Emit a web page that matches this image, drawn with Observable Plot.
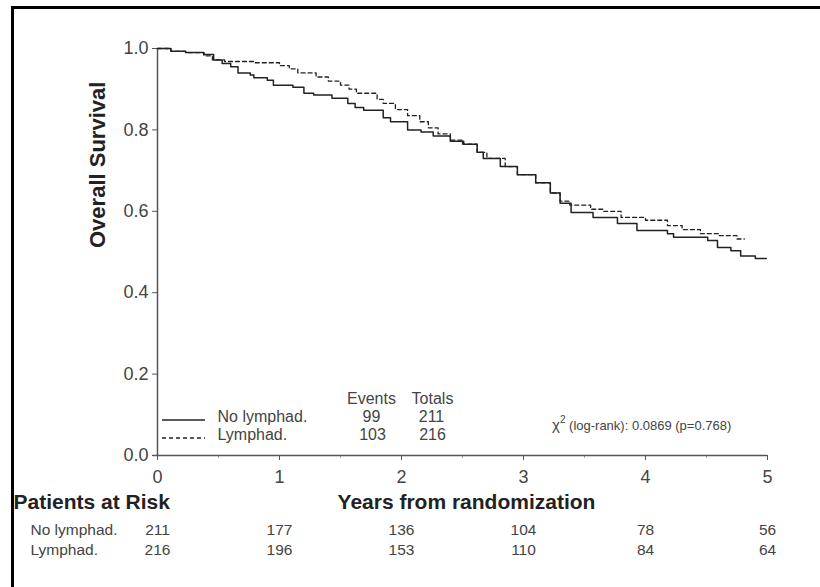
<!DOCTYPE html>
<html>
<head>
<meta charset="utf-8">
<script src="https://cdn.jsdelivr.net/npm/d3@7"></script>
<script src="https://cdn.jsdelivr.net/npm/@observablehq/plot@0.6"></script>
<style>
  html, body { margin: 0; padding: 0; background: #fff; }
  #wrap { position: relative; width: 820px; height: 587px; overflow: hidden; }
  #frame { position: absolute; left: 11px; top: 6px; right: -20px; bottom: -20px;
           border-top: 3px solid #000; border-left: 3px solid #000; pointer-events: none; }
</style>
</head>
<body>
<div id="wrap"><div id="frame"></div></div>
<script>
// ---- Data ----
const groups = ["No lymphad.", "Lymphad."];
const noTimes = [0, 0.11, 0.23, 0.38, 0.46, 0.53, 0.60, 0.66, 0.76, 0.79, 0.90, 0.95, 1.11, 1.20, 1.28, 1.43, 1.56, 1.62, 1.69, 1.85, 1.91, 2.05, 2.16, 2.26, 2.40, 2.51, 2.62, 2.67, 2.81, 2.95, 3.10, 3.22, 3.30, 3.39, 3.57, 3.77, 3.93, 4.18, 4.23, 4.51, 4.59, 4.70, 4.78, 4.90, 4.99];
const noSurv  = [1.0, 0.993, 0.99, 0.985, 0.972, 0.963, 0.955, 0.94, 0.935, 0.928, 0.922, 0.91, 0.905, 0.89, 0.886, 0.878, 0.865, 0.855, 0.848, 0.83, 0.82, 0.80, 0.795, 0.785, 0.772, 0.765, 0.745, 0.73, 0.71, 0.69, 0.67, 0.645, 0.62, 0.597, 0.585, 0.57, 0.553, 0.545, 0.536, 0.528, 0.511, 0.503, 0.49, 0.484, 0.484];
const lyTimes = [0, 0.11, 0.23, 0.38, 0.45, 0.55, 0.80, 1.00, 1.08, 1.15, 1.30, 1.40, 1.50, 1.57, 1.63, 1.80, 1.85, 1.95, 2.05, 2.15, 2.22, 2.30, 2.40, 2.50, 2.62, 2.70, 2.85, 2.95, 3.10, 3.22, 3.30, 3.38, 3.55, 3.65, 3.80, 4.00, 4.18, 4.30, 4.45, 4.60, 4.75, 4.81];
const lySurv  = [1.0, 0.993, 0.99, 0.982, 0.972, 0.968, 0.965, 0.958, 0.95, 0.94, 0.93, 0.92, 0.91, 0.90, 0.89, 0.875, 0.865, 0.85, 0.835, 0.82, 0.805, 0.79, 0.775, 0.765, 0.745, 0.73, 0.71, 0.69, 0.67, 0.645, 0.625, 0.615, 0.605, 0.60, 0.585, 0.578, 0.565, 0.555, 0.545, 0.54, 0.532, 0.532];

const events = [99, 103];
const totals = [211, 216];
const riskTimes = [0, 1, 2, 3, 4, 5];
const riskNo = [211, 177, 136, 104, 78, 56];
const riskLy = [216, 196, 153, 110, 84, 64];
const xTicks = [0, 1, 2, 3, 4, 5];
const xMinor = [0.5, 1.5, 2.5, 3.5, 4.5];
const yTicks = [0, 0.2, 0.4, 0.6, 0.8, 1.0];
const statText = "(log-rank): 0.0869 (p=0.768)";

const noData = noTimes.map((t, i) => ({t, s: noSurv[i]}));
const lyData = lyTimes.map((t, i) => ({t, s: lySurv[i]}));

const ink = "#222";
const txt = "#444";
const font = "Liberation Sans, Arial, Helvetica, sans-serif";

function label(str, opts) {
  return Plot.text([str], {text: d => d, fill: txt, ...opts});
}

const plot = Plot.plot({
  width: 820,
  height: 587,
  marginLeft: 157,
  marginRight: 53,
  marginTop: 48,
  marginBottom: 132,
  style: {fontFamily: font, background: "transparent", color: txt},
  x: {domain: [0, 5]},
  y: {domain: [0, 1]},
  marks: [
    Plot.axisY({ticks: yTicks, tickFormat: d3.format(".1f"), tickSize: 5, tickPadding: 4, fontSize: 18, label: null, stroke: "#555", fill: txt}),
    Plot.axisX({ticks: xTicks, tickFormat: d3.format("d"), tickSize: 5, tickPadding: 10, fontSize: 18, label: null, stroke: "#555", fill: txt}),
    Plot.axisX({ticks: xMinor, tickSize: 3, text: null, label: null, stroke: "#aaa"}),
    Plot.ruleX([0], {y1: 0, y2: 1, stroke: "#555", strokeWidth: 1.5}),
    Plot.ruleY([0], {x1: -0.035, x2: 5, stroke: "#555", strokeWidth: 1.5}),
    Plot.line(noData, {x: "t", y: "s", curve: "step-after", stroke: ink, strokeWidth: 1.5}),
    Plot.line(lyData, {x: "t", y: "s", curve: "step-after", stroke: ink, strokeWidth: 1.3, strokeDasharray: "4,3"}),
    // Legend labels & table
    label(groups[0], {frameAnchor: "bottom-left", dx: 60, dy: -34, textAnchor: "start", fontSize: 16}),
    label(groups[1], {frameAnchor: "bottom-left", dx: 60, dy: -16, textAnchor: "start", fontSize: 16}),
    label("Events", {frameAnchor: "bottom-left", dx: 214, dy: -52, textAnchor: "middle", fontSize: 16}),
    label("Totals", {frameAnchor: "bottom-left", dx: 275, dy: -52, textAnchor: "middle", fontSize: 16}),
    label(String(events[0]), {frameAnchor: "bottom-left", dx: 214, dy: -34, textAnchor: "middle", fontSize: 16}),
    label(String(events[1]), {frameAnchor: "bottom-left", dx: 215, dy: -16, textAnchor: "middle", fontSize: 16}),
    label(String(totals[0]), {frameAnchor: "bottom-left", dx: 274, dy: -34, textAnchor: "middle", fontSize: 16}),
    label(String(totals[1]), {frameAnchor: "bottom-left", dx: 275, dy: -16, textAnchor: "middle", fontSize: 16}),
    // Titles
    label("Overall Survival", {frameAnchor: "left", dx: -60, dy: -4, rotate: -90, fontSize: 22, fontWeight: "bold", fill: ink}),
    label("Years from randomization", {frameAnchor: "bottom", dx: 4, dy: 53, fontSize: 21, fontWeight: "bold", fill: ink}),
    label("Patients at Risk", {frameAnchor: "bottom-left", dx: -144, dy: 53, textAnchor: "start", fontSize: 21, fontWeight: "bold", fill: ink}),
    // Risk table
    label(groups[0], {frameAnchor: "bottom-left", dx: -127, dy: 79, textAnchor: "start", fontSize: 15.5}),
    label(groups[1], {frameAnchor: "bottom-left", dx: -127, dy: 99, textAnchor: "start", fontSize: 15.5}),
    Plot.text(riskNo, {x: (d, i) => riskTimes[i], text: d => d, frameAnchor: "bottom", dy: 79, textAnchor: "middle", fontSize: 15.5, fill: txt}),
    Plot.text(riskLy, {x: (d, i) => riskTimes[i], text: d => d, frameAnchor: "bottom", dy: 99, textAnchor: "middle", fontSize: 15.5, fill: txt})
  ]
});

// Legend line samples and chi-square annotation (appended in the plot's SVG)
const svg = d3.select(plot);
const x0 = 157, yb = 455;
svg.append("line").attr("x1", x0 + 5).attr("x2", x0 + 48).attr("y1", yb - 35).attr("y2", yb - 35)
  .attr("stroke", ink).attr("stroke-width", 1.5);
svg.append("line").attr("x1", x0 + 5).attr("x2", x0 + 48).attr("y1", yb - 17).attr("y2", yb - 17)
  .attr("stroke", ink).attr("stroke-width", 1.3).attr("stroke-dasharray", "4,3");
const st = svg.append("text").attr("x", 552).attr("y", 430).attr("font-size", 13)
  .attr("text-anchor", "start").attr("font-family", font).attr("fill", txt);
st.append("tspan").text("\u03C7").attr("font-size", 15);
st.append("tspan").text("2").attr("font-size", 10).attr("dy", -7);
st.append("tspan").text(" " + statText).attr("dy", 7);

document.getElementById("wrap").prepend(plot);
</script>
</body>
</html>
